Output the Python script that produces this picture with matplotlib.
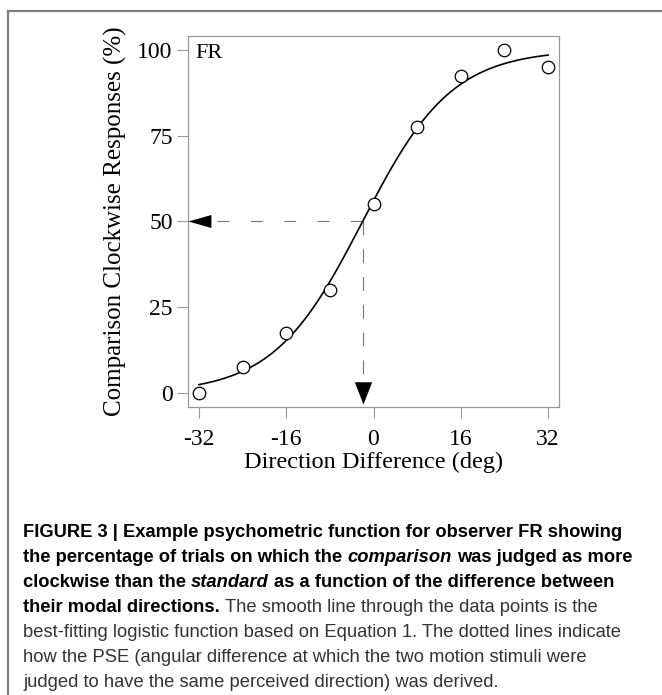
import numpy as np
import matplotlib
import matplotlib.pyplot as plt
from matplotlib import font_manager
from matplotlib.lines import Line2D
matplotlib.use("Agg")

# data
direction = [-32, -24, -16, -8, 0, 8, 16, 24, 32]
clockwise_pct = [0, 7.5, 17.5, 30, 55, 77.5, 92.5, 100, 95]
pse = -2.0          # 50% point of the fitted logistic
spread = 8.2        # logistic slope parameter
fit_from, fit_to = -32, 32
pse_level = 50
x_ticks = [-32, -16, 0, 16, 32]
y_ticks = [0, 25, 50, 75, 100]

caption_lines = [
    [("FIGURE 3 | Example psychometric function for observer FR showing", "b")],
    [("the percentage of trials on which the", "b"), (" comparison", "bi"), (" was judged as more", "b")],
    [("clockwise than the", "b"), (" standard", "bi"), (" as a function of the difference between", "b")],
    [("their modal directions.", "b"), (" The smooth line through the data points is the", "r")],
    [("best-fitting logistic function based on Equation 1. The dotted lines indicate", "r")],
    [("how the PSE (angular difference at which the two motion stimuli were", "r")],
    [("judged to have the same perceived direction) was derived.", "r")],
]
# right end of each caption line in the reference (px)
caption_ends = [640, 633, 626, 617, 632, 597, 507]

W, H = 662, 695
serif = "Liberation Serif"
gray = "#999999"
plt.rcParams["axes.unicode_minus"] = False
plt.rcParams["lines.scale_dashes"] = False

fig = plt.figure(figsize=(W / 100, H / 100), dpi=100)
ax = fig.add_axes([188 / W, 1 - 407 / H, (559 - 188) / W, (407 - 36) / H])

xs = np.linspace(fit_from, fit_to, 300)
fit = 100 / (1 + np.exp(-(xs - pse) / spread))
ax.plot(xs, fit, color="black", lw=1.2, zorder=3)
ax.plot(direction, clockwise_pct, "o", ms=9, mfc="white", mec="black", mew=0.9, zorder=4)

ax.set_xlim(-34, 34)
ax.set_ylim(-4, 104)

# PSE read-out: dashed lines and arrow heads
ax.plot([-34, pse], [pse_level, pse_level], color="#777777", lw=0.8,
        linestyle=(3, (8.5, 15.5)), zorder=2)
ax.plot([pse, pse], [pse_level, -3], color="#777777", lw=0.8,
        linestyle=(0, (10, 10)), zorder=2)
left_head = [(0, 0), (2, 0.57), (2, -0.57), (0, 0)]
down_head = [(0, 0), (-0.39, 1), (0.39, 1), (0, 0)]
ax.plot([-34], [pse_level], marker=left_head, ms=33, color="black", mew=0, zorder=5, clip_on=False)
ax.plot([pse], [-3], marker=down_head, ms=32, color="black", mew=0, zorder=5, clip_on=False)

ax.text(0.019, 0.978, "FR", transform=ax.transAxes, ha="left", va="top",
        fontsize=16, family=serif)

for s in ax.spines.values():
    s.set_color(gray)
    s.set_linewidth(0.9)
ax.set_xticks(x_ticks)
ax.set_yticks(y_ticks)
ax.tick_params(direction="out", length=8, width=0.8, color=gray, labelsize=17,
               top=False, right=False)
ax.tick_params(axis="x", pad=7.5)
ax.tick_params(axis="y", pad=3)
for lab in ax.get_xticklabels() + ax.get_yticklabels():
    lab.set_family(serif)

ax.set_xlabel("Direction Difference (deg)", fontsize=17.5, family=serif)
ax.set_ylabel("Comparison Clockwise Responses (%)", fontsize=18, family=serif)
ax.xaxis.set_label_coords(0.5, -0.12)
ax.yaxis.set_label_coords(-0.165, 0.5)

# outer frame of the figure panel
fig.add_artist(Line2D([8 / W, 1], [1 - 11 / H, 1 - 11 / H], color="#808080", lw=1.6))
fig.add_artist(Line2D([8 / W, 8 / W], [0, 1 - 11 / H], color="#808080", lw=1.6))

# caption, laid out segment by segment
try:
    font_manager.findfont(font_manager.FontProperties(family="Liberation Sans Narrow"),
                          fallback_to_default=False)
    cap_font = "Liberation Sans Narrow"
except Exception:
    cap_font = "Liberation Sans"

renderer = fig.canvas.get_renderer()
styles = {"b": dict(fontweight="bold", fontstyle="normal", color="black"),
          "bi": dict(fontweight="bold", fontstyle="italic", color="black"),
          "r": dict(fontweight="normal", fontstyle="normal", color="#333333")}
x0 = 23


def measure(txt, style, size):
    t = fig.text(0, 0, txt, fontsize=size, family=cap_font, **styles[style])
    w = t.get_window_extent(renderer).width
    t.remove()
    return w


def line_width(segs, size):
    w = 0
    for txt, style in segs:
        if txt.startswith(" "):
            w += measure("x x", style, size) - measure("xx", style, size)
        w += measure(txt.strip(), style, size)
    return w


cap_size = min(14 * (end - x0) / line_width(segs, 14)
               for segs, end in zip(caption_lines[:5], caption_ends[:5]))

for i, segs in enumerate(caption_lines):
    x = x0
    y = 537 + 25 * i
    for txt, style in segs:
        if txt.startswith(" "):
            x += measure("x x", style, cap_size) - measure("xx", style, cap_size)
            txt = txt.lstrip()
        t = fig.text(x / W, 1 - y / H, txt, fontsize=cap_size, family=cap_font,
                     va="baseline", ha="left", **styles[style])
        x += t.get_window_extent(renderer).width

fig.savefig("out.png", dpi=100)
